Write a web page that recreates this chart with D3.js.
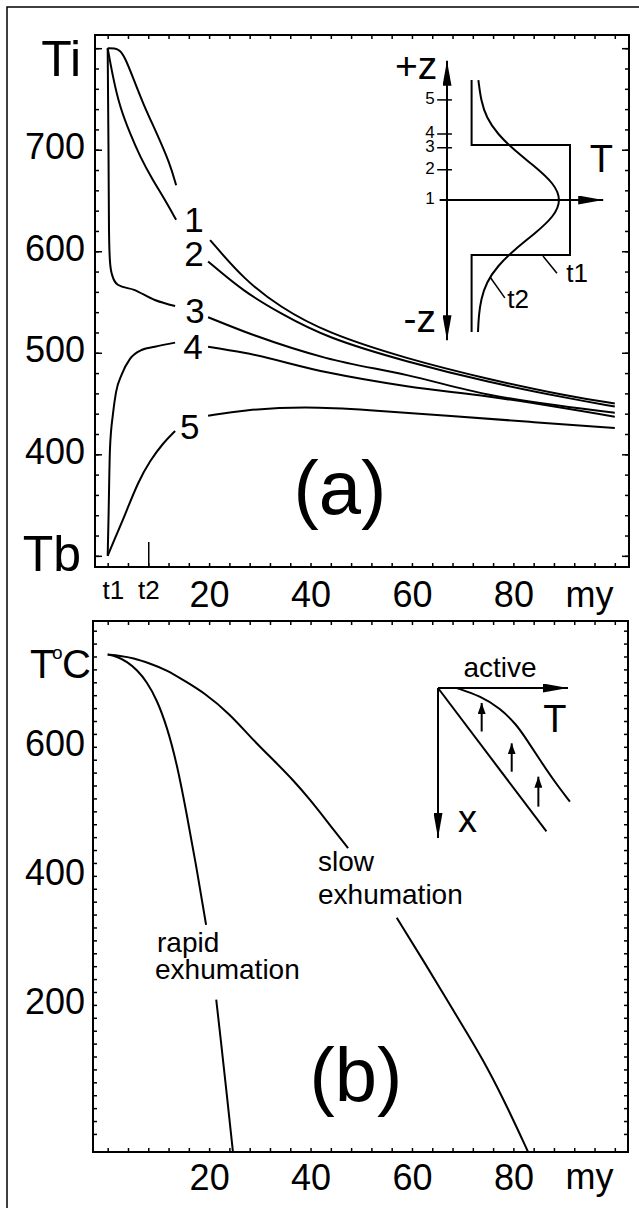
<!DOCTYPE html>
<html>
<head>
<meta charset="utf-8">
<script src="https://cdn.jsdelivr.net/npm/d3@7"></script>
<style>
  body { margin: 0; background: #fff; }
  svg text { font-family: "Liberation Sans", Arial, Helvetica, sans-serif; fill: #000; }
</style>
</head>
<body>
<svg id="chart" width="639" height="1208"></svg>
<script>
// ---- panel (a): temperature (°C) against time (my) at levels 1..5, null = gap for the label
const levelNames = ["1", "2", "3", "4", "5"];
const level1 = [[0,800],[1.4,800],[2.4,798],[3.4,791],[5,771],[7,745],[9.7,716],[12.3,686],[13.5,665],null,
  [20.2,611],[26.9,572],[34,545],[43,520],[59,494],[75,474],[91,457],[100,450]];
const level2 = [[0,800],[1.05,771],[2.4,742],[4.4,716],[6.4,693],[8.9,670],[10.9,654],[13.5,631],null,
  [19.8,590],[26.9,560],[34,539],[43,515],[59,491],[75,471],[91,455],[100,447]];
const level3 = [[0,800],[0.16,700],[0.26,621],[0.45,590],[0.85,577],[2,567],[5.2,562],[9.3,552],[13.3,546],null,
  [19.8,535],[26.9,521],[43,495],[59,478],[75,459],[100,441]];
const level4 = [[0,300],[0.16,336],[0.45,405],[1.05,440],[1.64,461],[2.8,479],[4.4,494],[6.8,503],[9.3,506],[13.3,510],null,
  [19.8,506],[26.9,500],[43,481],[59,467],[75,457],[100,437]];
const level5 = [[0,300],[1.4,317],[3.4,340],[6,373],[8.4,394],[10.9,411],[13.3,423],null,
  [19.8,438],[26.9,444],[39,447],[51,444],[67,438],[83,432],[100,426]];
const levelLabelSpots = [[17,631],[17,598],[17.2,542],[16.8,506],[16.2,427]];

const yTicksA = [300, 400, 500, 600, 700, 800];
const yTickLabelsA = ["Tb", "400", "500", "600", "700", "Ti"];
const xTicksA = [1, 8, 20, 40, 60, 80];
const xTickLabelsA = ["t1", "t2", "20", "40", "60", "80"];

// inset (a): T(z) profiles, t1 = step, t2 = smoothed bell
const zLevels = [0, 0.55, 0.95, 1.2, 1.82];
const profileT1 = [[0.2,2.18],[0.2,1],[1,1],[1,-1],[0.2,-1],[0.2,-2.4]];
const profileT2 = [[0.255,2.18],[0.277,1.8],[0.32,1.5],[0.41,1.2],[0.55,0.9],[0.72,0.6],[0.87,0.3],[0.93,0],
  [0.87,-0.3],[0.72,-0.6],[0.55,-0.9],[0.41,-1.2],[0.32,-1.5],[0.277,-1.8],[0.258,-2.1],[0.252,-2.4]];

// ---- panel (b): cooling paths
const rapid = [[0,743],[1.8,740],[3.8,732],[5.8,719],[7.7,701],[9.7,673],[11.7,631],[13.7,572],[15.6,495],[17.6,409],[19.4,324],null,
  [21.4,208],[22.3,146],[23.5,60],[24.7,-28]];
const slow = [[0,743],[2.4,741],[5,738],[8.4,729],[11.7,719],[15.2,702],[19,684],[24.1,651],[28.6,611],[33,577],[36.5,549],[39.9,518],[43,487],[47.4,443],null,
  [57,335],[61.9,273],[66.9,208],[70.8,157],[74.8,104],[78.9,40],[82.9,-28]];
const yTicksB = [200, 400, 600];
const xTicksB = [20, 40, 60, 80];

// inset (b): straight and bent isotherm, with uplift arrows
const passiveFront = [[0,0],[0.834,0.956]];
const activeFront = [[0.144,0],[0.325,0.053],[0.479,0.135],[0.607,0.247],[0.684,0.347],[0.785,0.48],[0.887,0.613],[1.015,0.758]];
const upliftArrows = [[0.336,0.29,0.1],[0.567,0.558,0.369],[0.772,0.791,0.591]];

const svg = d3.select("#chart");
const defs = svg.append("defs");

function marker(id, len, wid) {
  defs.append("marker")
    .attr("id", id)
    .attr("viewBox", "0 0 10 10")
    .attr("refX", 10).attr("refY", 5)
    .attr("markerUnits", "userSpaceOnUse")
    .attr("markerWidth", len).attr("markerHeight", wid)
    .attr("preserveAspectRatio", "none")
    .attr("orient", "auto")
    .append("path").attr("d", "M0,0L10,5L0,10z").attr("fill", "#000");
}
marker("bigArrow", 25, 9);
marker("smallArrow", 11, 8);

// outer frame, only its top and left edges are inside the picture
svg.append("path").attr("d", "M7,1208V7H639")
  .attr("fill", "none").attr("stroke", "#000").attr("stroke-width", 1.5);

function frame(g, x, y) {
  const [x0, x1] = x.range(), [y0, y1] = y.range();
  g.append("rect")
    .attr("x", x0).attr("y", y1).attr("width", x1 - x0).attr("height", y0 - y1)
    .attr("fill", "none").attr("stroke", "#000").attr("stroke-width", 2);
}

function ticks(g, axis, tr, vals, len) {
  const a = g.append("g").attr("transform", tr)
    .call(axis.tickValues(vals).tickSizeInner(-len).tickSizeOuter(0).tickFormat(""));
  a.select(".domain").remove();
  a.selectAll("line").attr("stroke", "#000").attr("stroke-width", 1.5);
  return a;
}

// ================= panel (a)
const xA = d3.scaleLinear().domain([-2.5, 102.8]).range([95, 629]);
const yA = d3.scaleLinear().domain([289, 813]).range([567, 35]);
const gA = svg.append("g");

ticks(gA, d3.axisBottom(xA), "translate(0,567)", d3.range(0, 101, 4), 4);
ticks(gA, d3.axisTop(xA), "translate(0,35)", d3.range(0, 101, 4), 4);
ticks(gA, d3.axisLeft(yA), "translate(95,0)", d3.range(300, 801, 20), 4);
ticks(gA, d3.axisRight(yA), "translate(629,0)", d3.range(300, 801, 20), 4);
ticks(gA, d3.axisLeft(yA), "translate(95,0)", yTicksA, 7);
ticks(gA, d3.axisRight(yA), "translate(629,0)", yTicksA, 7);
ticks(gA, d3.axisBottom(xA), "translate(0,567)", [8], 25);
frame(gA, xA, yA);

const yLabA = gA.append("g").attr("transform", "translate(95,0)")
  .call(d3.axisLeft(yA).tickValues(yTicksA).tickSize(0).tickPadding(10)
    .tickFormat((d, i) => yTickLabelsA[i]));
yLabA.select(".domain").remove();
yLabA.selectAll("text")
  .attr("font-size", d => (d === 300 || d === 800) ? 50 : 36)
  .attr("dy", d => d === 800 ? "0.54em" : d === 300 ? "0.3em" : "0.25em")
  .attr("x", d => (d === 300 || d === 800) ? -14 : -10);

const xLabA = gA.append("g").attr("transform", "translate(0,567)")
  .call(d3.axisBottom(xA).tickValues(xTicksA).tickSize(0).tickPadding(14)
    .tickFormat((d, i) => xTickLabelsA[i]));
xLabA.select(".domain").remove();
xLabA.selectAll("text").attr("font-size", d => d < 10 ? 26 : 36);

gA.append("text").attr("x", xA(95)).attr("y", 607)
  .attr("text-anchor", "middle").attr("font-size", 36).text("my");

const lineA = d3.line().defined(d => d).x(d => xA(d[0])).y(d => yA(d[1])).curve(d3.curveMonotoneX);
const lineA3 = d3.line().defined(d => d).x(d => xA(d[0])).y(d => yA(d[1])).curve(d3.curveBasis);
[level1, level2, level5].forEach(s => {
  gA.append("path").attr("d", lineA3(s)).attr("fill", "none").attr("stroke", "#000").attr("stroke-width", 2);
});
[level3, level4].forEach(s => {
  gA.append("path").attr("d", lineA(s)).attr("fill", "none").attr("stroke", "#000").attr("stroke-width", 2);
});

gA.selectAll("text.lvl").data(levelNames).join("text")
  .attr("class", "lvl")
  .attr("x", (d, i) => xA(levelLabelSpots[i][0]))
  .attr("y", (d, i) => yA(levelLabelSpots[i][1]))
  .attr("dy", "0.36em")
  .attr("text-anchor", "middle").attr("font-size", 35)
  .text(d => d);

gA.append("text").attr("x", 340).attr("y", 514)
  .attr("text-anchor", "middle").attr("font-size", 76).text("(a)");

// ---- inset (a)
const insT = d3.scaleLinear().domain([0, 1]).range([447, 570]);
const insZ = d3.scaleLinear().domain([-1, 1]).range([255, 145]);
const gI = gA.append("g");
const axLine = (x1, y1, x2, y2) => gI.append("line")
  .attr("x1", x1).attr("y1", y1).attr("x2", x2).attr("y2", y2)
  .attr("stroke", "#000").attr("stroke-width", 2).attr("marker-end", "url(#bigArrow)");
axLine(insT(0), insZ(0), insT(0), insZ(2.53));
axLine(insT(0), insZ(0), insT(0), insZ(-2.55));
axLine(insT(-0.06), insZ(0), insT(1.27), insZ(0));

gI.selectAll("line.zt").data(zLevels.slice(1)).join("line")
  .attr("class", "zt")
  .attr("x1", insT(-0.08)).attr("x2", insT(0.04))
  .attr("y1", d => insZ(d)).attr("y2", d => insZ(d))
  .attr("stroke", "#000").attr("stroke-width", 1.5);
gI.selectAll("text.zl").data(zLevels).join("text")
  .attr("class", "zl")
  .attr("x", insT(-0.1)).attr("y", d => insZ(d) - 2).attr("dy", "0.36em")
  .attr("text-anchor", "end").attr("font-size", 17)
  .text((d, i) => levelNames[i]);

const profLine = d3.line().x(d => insT(d[0])).y(d => insZ(d[1]));
gI.append("path").attr("d", profLine(profileT1)).attr("fill", "none").attr("stroke", "#000").attr("stroke-width", 2);
gI.append("path").attr("d", profLine.curve(d3.curveBasis)(profileT2)).attr("fill", "none").attr("stroke", "#000").attr("stroke-width", 2);

gI.append("line").attr("x1", insT(0.78)).attr("y1", insZ(-1.02)).attr("x2", insT(0.894)).attr("y2", insZ(-1.33))
  .attr("stroke", "#000").attr("stroke-width", 1.5);
gI.append("line").attr("x1", insT(0.35)).attr("y1", insZ(-1.4)).attr("x2", insT(0.47)).attr("y2", insZ(-1.78))
  .attr("stroke", "#000").attr("stroke-width", 1.5);
gI.append("text").attr("x", insT(0.97)).attr("y", insZ(-1.49)).attr("font-size", 26).text("t1");
gI.append("text").attr("x", insT(0.49)).attr("y", insZ(-1.96)).attr("font-size", 26).text("t2");
gI.append("text").attr("x", insT(1.16)).attr("y", insZ(0.51)).attr("font-size", 38).text("T");
gI.append("text").attr("x", insT(-0.08)).attr("y", insZ(2.2)).attr("text-anchor", "end").attr("font-size", 39).text("+z");
gI.append("text").attr("x", insT(-0.09)).attr("y", insZ(-2.4)).attr("text-anchor", "end").attr("font-size", 39).text("-z");

// ================= panel (b)
const xB = d3.scaleLinear().domain([-2.9, 102.6]).range([93, 628]);
const yB = d3.scaleLinear().domain([-28, 795]).range([1152, 621]);
const gB = svg.append("g");

ticks(gB, d3.axisBottom(xB), "translate(0,1152)", d3.range(0, 101, 4), 4);
ticks(gB, d3.axisTop(xB), "translate(0,621)", d3.range(0, 101, 4), 4);
ticks(gB, d3.axisLeft(yB), "translate(93,0)", d3.range(0, 781, 20), 4);
ticks(gB, d3.axisRight(yB), "translate(628,0)", d3.range(0, 781, 20), 4);
frame(gB, xB, yB);

const yLabB = gB.append("g").attr("transform", "translate(93,0)")
  .call(d3.axisLeft(yB).tickValues(yTicksB).tickSize(0).tickPadding(8));
yLabB.select(".domain").remove();
yLabB.selectAll("text").attr("font-size", 36).attr("dy", "0.25em");

const xLabB = gB.append("g").attr("transform", "translate(0,1152)")
  .call(d3.axisBottom(xB).tickValues(xTicksB).tickSize(0).tickPadding(12));
xLabB.select(".domain").remove();
xLabB.selectAll("text").attr("font-size", 36);

gB.append("text").attr("x", xB(95)).attr("y", 1189)
  .attr("text-anchor", "middle").attr("font-size", 36).text("my");

// T°C with a small raised o
gB.append("text").attr("x", 30).attr("y", 678).attr("font-size", 40).text("T");
gB.append("text").attr("x", 52).attr("y", 659).attr("font-size", 19).text("o");
gB.append("text").attr("x", 62).attr("y", 678).attr("font-size", 40).text("C");

const lineB = d3.line().defined(d => d).x(d => xB(d[0])).y(d => yB(d[1])).curve(d3.curveBasis);
[rapid, slow].forEach(s => {
  gB.append("path").attr("d", lineB(s)).attr("fill", "none").attr("stroke", "#000").attr("stroke-width", 2);
});

gB.append("text").attr("x", 157).attr("y", 952).attr("font-size", 28).text("rapid");
gB.append("text").attr("x", 155).attr("y", 979).attr("font-size", 28).text("exhumation");
gB.append("text").attr("x", 318).attr("y", 871).attr("font-size", 28).text("slow");
gB.append("text").attr("x", 318).attr("y", 904).attr("font-size", 28).text("exhumation");

gB.append("text").attr("x", 356).attr("y", 1101)
  .attr("text-anchor", "middle").attr("font-size", 76).text("(b)");

// ---- inset (b)
const insBT = d3.scaleLinear().domain([0, 1]).range([438, 568]);
const insBX = d3.scaleLinear().domain([0, 1]).range([688, 838]);
const gJ = gB.append("g");
gJ.append("line").attr("x1", insBT(0)).attr("y1", insBX(0)).attr("x2", insBT(1)).attr("y2", insBX(0))
  .attr("stroke", "#000").attr("stroke-width", 2).attr("marker-end", "url(#bigArrow)");
gJ.append("line").attr("x1", insBT(0)).attr("y1", insBX(0)).attr("x2", insBT(0)).attr("y2", insBX(1))
  .attr("stroke", "#000").attr("stroke-width", 2).attr("marker-end", "url(#bigArrow)");
const frontLine = d3.line().x(d => insBT(d[0])).y(d => insBX(d[1]));
gJ.append("path").attr("d", frontLine(passiveFront)).attr("fill", "none").attr("stroke", "#000").attr("stroke-width", 2);
gJ.append("path").attr("d", frontLine.curve(d3.curveBasis)(activeFront)).attr("fill", "none").attr("stroke", "#000").attr("stroke-width", 2);
gJ.selectAll("line.up").data(upliftArrows).join("line")
  .attr("class", "up")
  .attr("x1", d => insBT(d[0])).attr("x2", d => insBT(d[0]))
  .attr("y1", d => insBX(d[1])).attr("y2", d => insBX(d[2]))
  .attr("stroke", "#000").attr("stroke-width", 2).attr("marker-end", "url(#smallArrow)");
gJ.append("text").attr("x", insBT(0.477)).attr("y", insBX(-0.073)).attr("text-anchor", "middle").attr("font-size", 28).text("active");
gJ.append("text").attr("x", insBT(0.81)).attr("y", insBX(0.29)).attr("font-size", 38).text("T");
gJ.append("text").attr("x", insBT(0.154)).attr("y", insBX(0.96)).attr("font-size", 38).text("x");
</script>
</body>
</html>
